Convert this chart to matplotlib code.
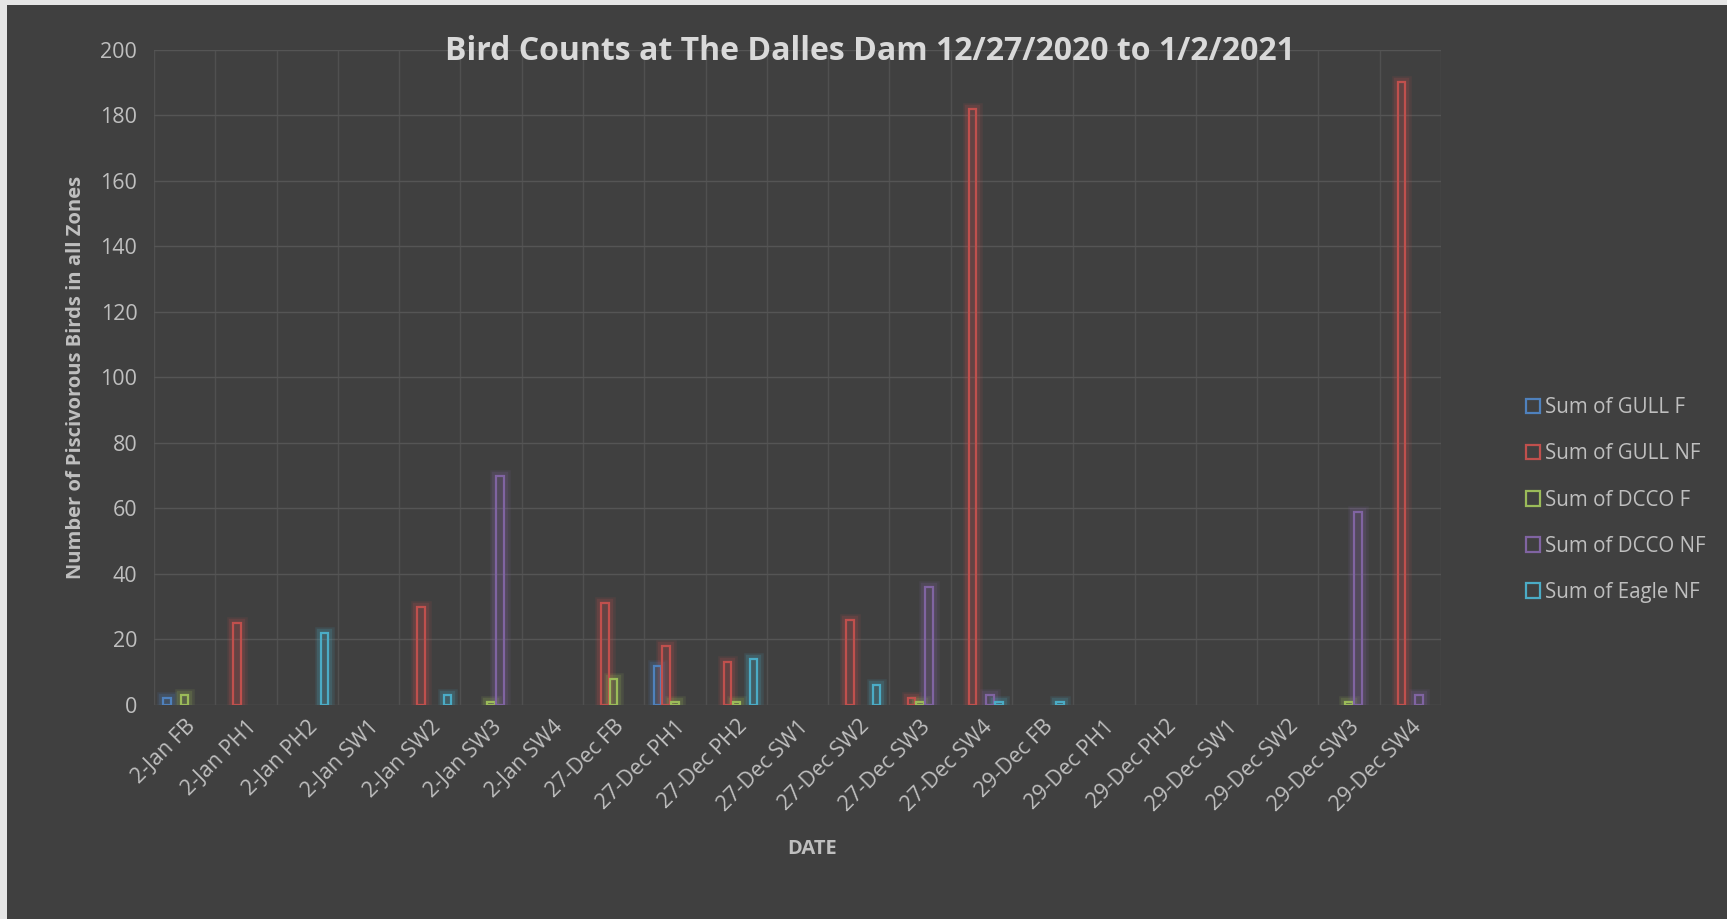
import matplotlib.pyplot as plt
import numpy as np
from matplotlib.patches import Rectangle

plt.rcParams['font.family'] = ['Open Sans', 'DejaVu Sans']

categories = ['2-Jan FB', '2-Jan PH1', '2-Jan PH2', '2-Jan SW1', '2-Jan SW2', '2-Jan SW3', '2-Jan SW4',
              '27-Dec FB', '27-Dec PH1', '27-Dec PH2', '27-Dec SW1', '27-Dec SW2', '27-Dec SW3', '27-Dec SW4',
              '29-Dec FB', '29-Dec PH1', '29-Dec PH2', '29-Dec SW1', '29-Dec SW2', '29-Dec SW3', '29-Dec SW4']

gull_f   = [2, 0, 0, 0, 0, 0, 0, 0, 12, 0, 0, 0, 0, 0, 0, 0, 0, 0, 0, 0, 0]
gull_nf  = [0, 25, 0, 0, 30, 0, 0, 31, 18, 13, 0, 26, 2, 182, 0, 0, 0, 0, 0, 0, 190]
dcco_f   = [3, 0, 0, 0, 0, 1, 0, 8, 1, 1, 0, 0, 1, 0, 0, 0, 0, 0, 0, 1, 0]
dcco_nf  = [0, 0, 0, 0, 0, 70, 0, 0, 0, 0, 0, 0, 36, 3, 0, 0, 0, 0, 0, 59, 3]
eagle_nf = [0, 0, 22, 0, 3, 0, 0, 0, 0, 14, 0, 6, 0, 1, 1, 0, 0, 0, 0, 0, 0]

series_names = ['Sum of GULL F', 'Sum of GULL NF', 'Sum of DCCO F', 'Sum of DCCO NF', 'Sum of Eagle NF']
series_vals = [gull_f, gull_nf, dcco_f, dcco_nf, eagle_nf]
colors = ['#4F81BD', '#C0504D', '#9BBB59', '#8064A2', '#4BACC6']

bg = '#404040'
txt = '#d9d9d9'
W, H = 1727, 919

fig = plt.figure(figsize=(W / 100, H / 100), dpi=100)
fig.patch.set_facecolor('#e6e6e6')
fig.patches.append(Rectangle((7 / W, 0), 1, (H - 5) / H, transform=fig.transFigure,
                             facecolor=bg, edgecolor='none', zorder=-5))

ax = fig.add_axes([154 / W, 1 - 705 / H, (1441 - 154) / W, (705 - 49.6) / H])
ax.set_facecolor(bg)

x = np.arange(len(categories))
slot = 0.143
bw = 0.12
for i, (name, vals, c) in enumerate(zip(series_names, series_vals, colors)):
    pos = x + (i - 2) * slot
    v = np.array(vals, dtype=float)
    mask = v > 0
    # glow
    for lw, a in [(9, 0.12), (6, 0.18)]:
        ax.bar(pos[mask], v[mask], width=bw, facecolor='none', edgecolor=c,
               linewidth=lw, alpha=a, zorder=2)
    ax.bar(pos[mask], v[mask], width=bw, facecolor='none', edgecolor=c,
           linewidth=1.6, zorder=3, label=name)

ax.set_xlim(-0.5, len(categories) - 0.5)
ax.set_ylim(0, 200)
ax.set_yticks(np.arange(0, 201, 20))
ax.set_xticks(x)
ax.set_xticklabels(categories, rotation=45, ha='right', rotation_mode='anchor')
ax.set_xticks(np.arange(-0.5, len(categories), 1), minor=True)
ax.grid(True, axis='y', color='#555555', linewidth=1, zorder=0)
ax.grid(True, axis='x', which='minor', color='#505050', linewidth=1, zorder=0)
ax.set_axisbelow(True)
ax.tick_params(axis='both', which='both', length=0, colors='#bfbfbf', labelsize=15.5)
ax.tick_params(axis='y', pad=12)
ax.tick_params(axis='x', pad=8)
for s in ax.spines.values():
    s.set_visible(False)

ax.set_ylabel('Number of Piscivorous Birds in all Zones', fontsize=14.5, fontweight='bold',
              color='#bfbfbf', labelpad=10)
ax.set_xlabel('DATE', fontsize=14.5, fontweight='bold', color='#bfbfbf')
ax.xaxis.set_label_coords(0.511, -0.205)
fig.text(870 / W, 1 - 52 / H, 'Bird Counts at The Dalles Dam 12/27/2020 to 1/2/2021',
         ha='center', va='center', fontsize=23, fontweight='bold', color=txt)

handles = [Rectangle((0, 0), 1, 1, facecolor='none', edgecolor=c, linewidth=1.6) for c in colors]
leg = fig.legend(handles, series_names, loc='center left', bbox_to_anchor=(1507 / W, 1 - 500 / H),
                 frameon=False, fontsize=14.8, labelspacing=1.22, handlelength=0.7, handleheight=0.7,
                 handletextpad=0.25)
for t in leg.get_texts():
    t.set_color('#bfbfbf')

fig.savefig('out.png', dpi=100, facecolor=fig.get_facecolor())
